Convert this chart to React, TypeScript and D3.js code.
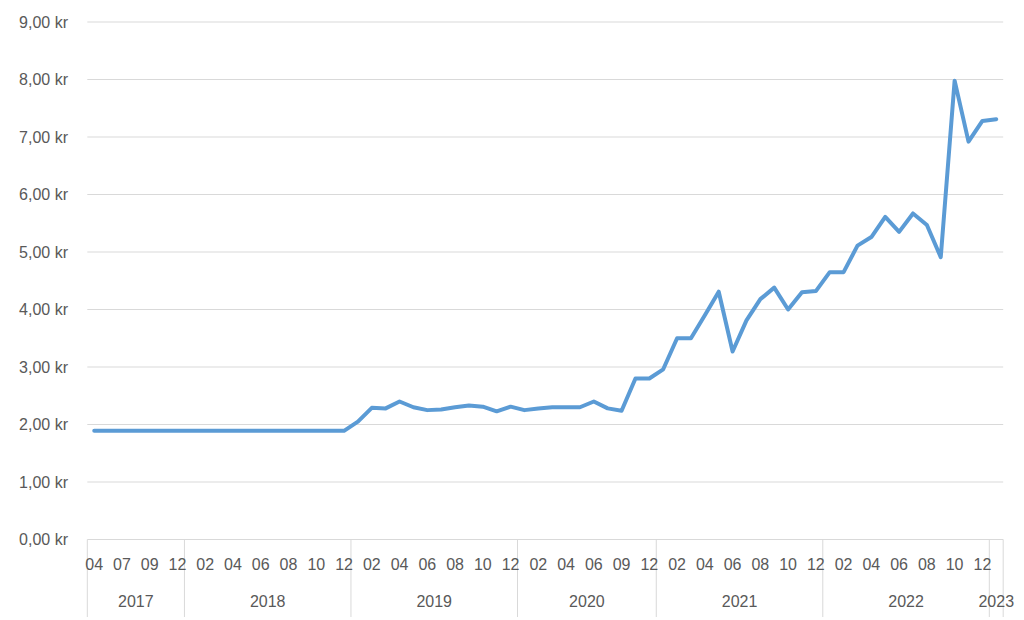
import React from "react";
import * as d3 from "d3";

const years = ["2017", "2018", "2019", "2020", "2021", "2022", "2023"];
const monthsByYear: string[][] = [
  ["04", "05", "07", "08", "09", "10", "12"],
  ["01", "02", "03", "04", "05", "06", "07", "08", "09", "10", "11", "12"],
  ["01", "02", "03", "04", "05", "06", "07", "08", "09", "10", "11", "12"],
  ["01", "02", "03", "04", "05", "06", "08", "09", "11", "12"],
  ["01", "02", "03", "04", "05", "06", "07", "08", "09", "10", "11", "12"],
  ["01", "02", "03", "04", "05", "06", "07", "08", "09", "10", "11", "12"],
  ["01"],
];
const prices: number[] = [
  1.89, 1.89, 1.89, 1.89, 1.89, 1.89, 1.89,
  1.89, 1.89, 1.89, 1.89, 1.89, 1.89, 1.89, 1.89, 1.89, 1.89, 1.89, 1.89,
  2.05, 2.29, 2.28, 2.40, 2.30, 2.25, 2.26, 2.30, 2.33, 2.31, 2.23, 2.31,
  2.25, 2.28, 2.30, 2.30, 2.30, 2.40, 2.28, 2.24, 2.80, 2.80,
  2.96, 3.50, 3.50, 3.90, 4.31, 3.27, 3.81, 4.18, 4.38, 4.00, 4.30, 4.32,
  4.65, 4.65, 5.11, 5.26, 5.61, 5.35, 5.67, 5.47, 4.91, 7.98, 6.92, 7.28,
  7.31,
];
const yTicks = [0, 1, 2, 3, 4, 5, 6, 7, 8, 9];

const W = 1024;
const H = 620;
const left = 87.3;
const right = 1003.2;
const top = 22;
const bottom = 539.5;

export default function App() {
  const cats: { year: string; month: string; yi: number }[] = [];
  monthsByYear.forEach((ms, yi) => ms.forEach((m) => cats.push({ year: years[yi], month: m, yi })));
  const idx = cats.map((_, i) => i);
  const x = d3.scaleBand<number>().domain(idx).range([left, right]).padding(0);
  const bw = x.bandwidth();
  const cx = (i: number) => (x(i) as number) + bw / 2;
  const y = d3.scaleLinear().domain([0, 9]).range([bottom, top]);
  const line = d3
    .line<number>()
    .x((_, i) => cx(i))
    .y((d) => y(d));

  const fmt = (v: number) => v.toFixed(2).replace(".", ",") + " kr";

  const groups: { year: string; start: number; end: number }[] = [];
  let s = 0;
  monthsByYear.forEach((ms, yi) => {
    groups.push({ year: years[yi], start: s, end: s + ms.length });
    s += ms.length;
  });
  const bx = (i: number) => (i >= cats.length ? right : (x(i) as number));

  const font = "'Liberation Sans', Arial, sans-serif";
  return (
    <svg
      width={W}
      height={H}
      style={{ position: "absolute", left: 0, top: 0, background: "#fff" }}
      fontFamily={font}
    >
      <rect width={W} height={H} fill="#fff" />
      {yTicks.map((t) => (
        <g key={t}>
          <line x1={left} x2={right} y1={y(t)} y2={y(t)} stroke="#D9D9D9" strokeWidth={1} />
          <text x={68} y={y(t)} dy="0.35em" textAnchor="end" fontSize={16} fill="#595959">
            {fmt(t)}
          </text>
        </g>
      ))}
      {groups.map((g) => (
        <line key={"s" + g.year} x1={bx(g.start)} x2={bx(g.start)} y1={bottom} y2={617} stroke="#D9D9D9" strokeWidth={1} />
      ))}
      <line x1={right} x2={right} y1={bottom} y2={617} stroke="#D9D9D9" strokeWidth={1} />
      {cats.map((c, i) =>
        i % 2 === 0 ? (
          <text key={"m" + i} x={cx(i)} y={570} textAnchor="middle" fontSize={16} fill="#595959">
            {c.month}
          </text>
        ) : null
      )}
      {groups.map((g) => (
        <text
          key={"y" + g.year}
          x={(bx(g.start) + bx(g.end)) / 2}
          y={607}
          textAnchor="middle"
          fontSize={16}
          fill="#595959"
        >
          {g.year}
        </text>
      ))}
      <path
        d={line(prices) || ""}
        fill="none"
        stroke="#5B9BD5"
        strokeWidth={4}
        strokeLinejoin="round"
        strokeLinecap="round"
      />
    </svg>
  );
}
